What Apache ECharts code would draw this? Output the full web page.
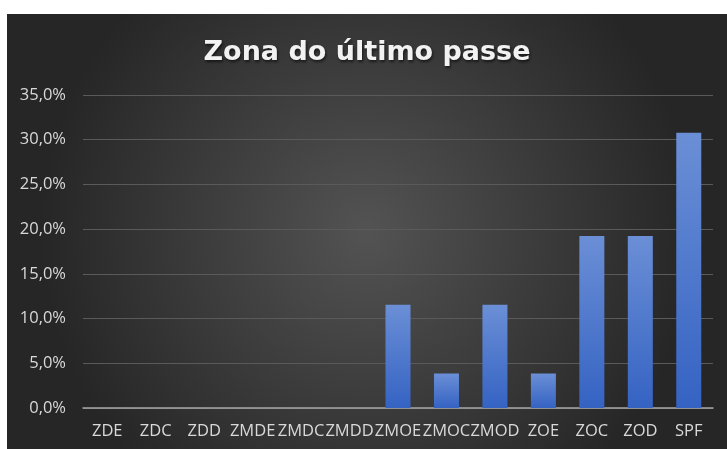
<!DOCTYPE html>
<html>
<head>
<meta charset="utf-8">
<script src="https://cdn.jsdelivr.net/npm/echarts@6/dist/echarts.min.js"></script>
<style>
  html, body { margin: 0; padding: 0; background: #ffffff; }
  #chart { position: absolute; left: 7px; top: 14px; width: 720px; height: 435px; }
</style>
</head>
<body>
<div id="chart"></div>
<script>
// dados
var categorias = ["ZDE", "ZDC", "ZDD", "ZMDE", "ZMDC", "ZMDD", "ZMOE", "ZMOC", "ZMOD", "ZOE", "ZOC", "ZOD", "SPF"];
var percentagens = [0, 0, 0, 0, 0, 0, 11.54, 3.85, 11.54, 3.85, 19.23, 19.23, 30.77];
var titulo = "Zona do último passe";

(function () {
  var myechart = echarts.init(document.getElementById("chart"));
  var fontColor = "#d9d9d9";
  var option = {
    backgroundColor: new echarts.graphic.RadialGradient(0.5, 0.5, 0.75, [
      { offset: 0, color: "#535353" },
      { offset: 1, color: "#262626" },
    ]),
    title: {
      text: titulo,
      left: "center",
      top: 20,
      textStyle: {
        color: "#f2f2f2",
        fontSize: 27,
        fontWeight: "bold",
        fontFamily: "DejaVu Sans",
        textShadowColor: "rgba(0,0,0,0.6)",
        textShadowBlur: 3,
        textShadowOffsetX: 1,
        textShadowOffsetY: 2,
      },
    },
    grid: {
      left: 76,
      right: 14,
      top: 81,
      bottom: 41,
    },
    xAxis: {
      type: "category",
      data: categorias,
      axisTick: { show: false },
      axisLine: { lineStyle: { color: "#a6a6a6", width: 1.5 } },
      axisLabel: {
        color: fontColor,
        fontSize: 16.5,
        fontFamily: "Open Sans",
        margin: 15,
        interval: 0,
      },
    },
    yAxis: {
      type: "value",
      min: 0,
      max: 35,
      interval: 5,
      axisLine: { show: false },
      axisTick: { show: false },
      axisLabel: {
        color: fontColor,
        fontSize: 16.5,
        fontFamily: "Open Sans",
        margin: 17,
        formatter: function (v) {
          return v.toFixed(1).replace(".", ",") + "%";
        },
      },
      splitLine: { lineStyle: { color: "#5a5a5a", width: 1 } },
    },
    series: [
      {
        type: "bar",
        data: percentagens,
        barWidth: 25,
        itemStyle: {
          color: new echarts.graphic.LinearGradient(0, 0, 0, 1, [
            { offset: 0, color: "#6b8fd6" },
            { offset: 1, color: "#3563c3" },
          ]),
          shadowColor: "rgba(0,0,0,0.5)",
          shadowBlur: 4,
          shadowOffsetX: 2,
          shadowOffsetY: 1,
        },
      },
    ],
  };
  myechart.setOption(option);
  window.addEventListener("resize", function () {
    myechart.resize();
  });
})();
</script>
</body>
</html>
